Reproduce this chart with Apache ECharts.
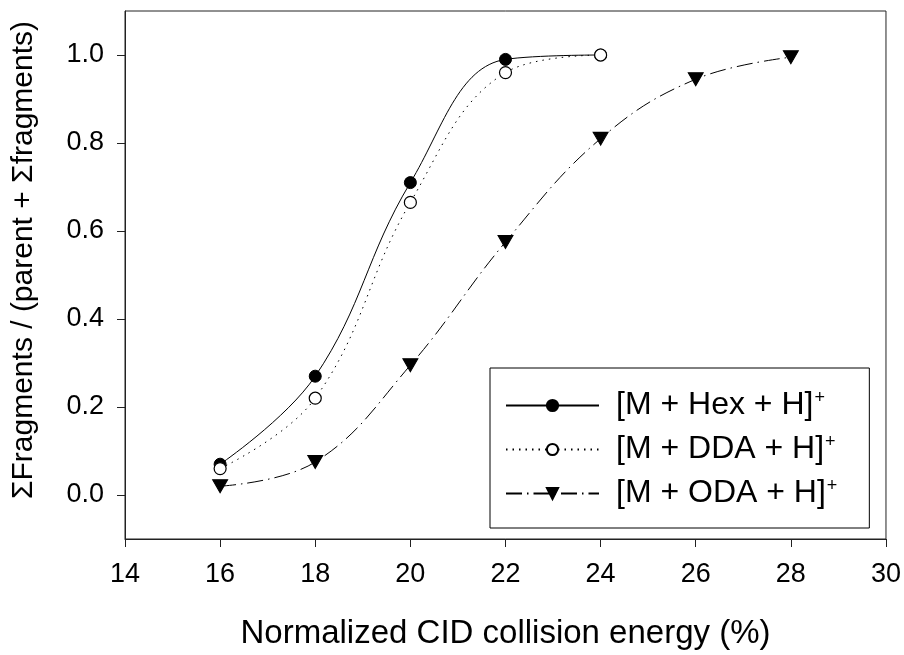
<!DOCTYPE html>
<html>
<head>
<meta charset="utf-8">
<title>Fragmentation vs. CID energy</title>
<script src="https://cdn.jsdelivr.net/npm/echarts@6/dist/echarts.min.js"></script>
<style>
  html, body { margin: 0; padding: 0; background: #fff; }
  #chart { width: 904px; height: 655px; }
</style>
</head>
<body>
<div id="chart"></div>
<script>
// Normalized CID collision energy (%)
const energy = [16, 18, 20, 22, 24, 26, 28];

// Fraction of fragments for each precursor ion
const hexValues = [0.07, 0.27, 0.71, 0.99, 1.0];
const ddaValues = [0.06, 0.22, 0.665, 0.96, 1.0];
const odaValues = [0.02, 0.075, 0.295, 0.575, 0.81, 0.945, 0.995];

const seriesNames = ['hex', 'dda', 'oda'];
const seriesLabels = ['[M + Hex + H]', '[M + DDA + H]', '[M + ODA + H]'];

const xTicks = [14, 16, 18, 20, 22, 24, 26, 28, 30];
const yTicks = [0, 0.2, 0.4, 0.6, 0.8, 1.0];

const FONT = "'Liberation Sans', Arial, Helvetica, sans-serif";

function pairs(values) {
  return values.map((v, i) => [energy[i], v]);
}

const chart = echarts.init(document.getElementById('chart'), null, { renderer: 'canvas' });

const baseLine = { color: '#000', width: 1 };

chart.setOption({
  backgroundColor: '#fff',
  animation: false,
  textStyle: { fontFamily: FONT, color: '#000' },
  grid: {
    left: 125, right: 17, top: 11, bottom: 112,
    show: true, borderColor: '#222', borderWidth: 1, backgroundColor: 'transparent'
  },
  legend: {
    orient: 'vertical',
    left: 490,
    top: 368,
    padding: [21, 32, 18, 15],
    itemGap: 11,
    itemWidth: 93,
    itemHeight: 14,
    borderColor: '#000',
    borderWidth: 1,
    backgroundColor: '#fff',
    data: seriesNames,
    formatter: function (name) {
      const label = seriesLabels[seriesNames.indexOf(name)];
      return '{m|' + label + '}{s|+}';
    },
    textStyle: {
      fontFamily: FONT,
      color: '#000',
      padding: [0, 0, 0, 12],
      rich: {
        m: { fontFamily: FONT, fontSize: 32, color: '#000', lineHeight: 33 },
        s: { fontFamily: FONT, fontSize: 18, color: '#000', verticalAlign: 'top', lineHeight: 16, padding: [0, 0, 15, 1] }
      }
    }
  },
  xAxis: {
    type: 'value',
    min: 14, max: 30, interval: 2,
    name: 'Normalized CID collision energy (%)',
    nameLocation: 'middle',
    nameGap: 78,
    nameTextStyle: { fontFamily: FONT, fontSize: 33, color: '#000' },
    axisLine: { show: true, onZero: false, lineStyle: { color: '#222', width: 1 } },
    axisTick: { show: true, inside: false, length: 8, lineStyle: { color: '#222', width: 1 } },
    axisLabel: {
      margin: 22, fontFamily: FONT, fontSize: 27, color: '#000',
      customValues: xTicks,
      formatter: v => String(v)
    },
    splitLine: { show: false }
  },
  yAxis: {
    type: 'value',
    min: -0.1, max: 1.1, interval: 0.1,
    name: 'ΣFragments / (parent + Σfragments)',
    nameLocation: 'middle',
    nameGap: 86,
    nameTextStyle: { fontFamily: FONT, fontSize: 30, color: '#000', padding: [0, 0, 0, 30] },
    axisLine: { show: true, onZero: false, lineStyle: { color: '#222', width: 1 } },
    axisTick: { show: true, inside: false, length: 8, customValues: yTicks, lineStyle: { color: '#222', width: 1 } },
    axisLabel: {
      margin: 21, fontFamily: FONT, fontSize: 27, color: '#000',
      customValues: yTicks,
      formatter: v => v.toFixed(1)
    },
    splitLine: { show: false }
  },
  series: [
    {
      name: 'hex',
      type: 'line',
      data: pairs(hexValues),
      smooth: 0.4,
      symbol: 'circle',
      symbolSize: 12,
      itemStyle: { color: '#000', borderColor: '#000', borderWidth: 1 },
      lineStyle: Object.assign({ type: 'solid' }, baseLine),
      z: 2
    },
    {
      name: 'dda',
      type: 'line',
      data: pairs(ddaValues),
      smooth: 0.4,
      symbol: 'circle',
      symbolSize: 12,
      itemStyle: { color: '#fff', borderColor: '#000', borderWidth: 1.2 },
      lineStyle: Object.assign({ type: [1.5, 5] }, baseLine),
      z: 3
    },
    {
      name: 'oda',
      type: 'line',
      data: pairs(odaValues),
      smooth: 0.4,
      symbol: 'triangle',
      symbolRotate: 180,
      symbolSize: [15, 13],
      itemStyle: { color: '#000', borderColor: '#000', borderWidth: 1 },
      lineStyle: Object.assign({ type: [16, 5, 1.5, 5] }, baseLine),
      z: 2
    }
  ]
});
</script>
</body>
</html>
